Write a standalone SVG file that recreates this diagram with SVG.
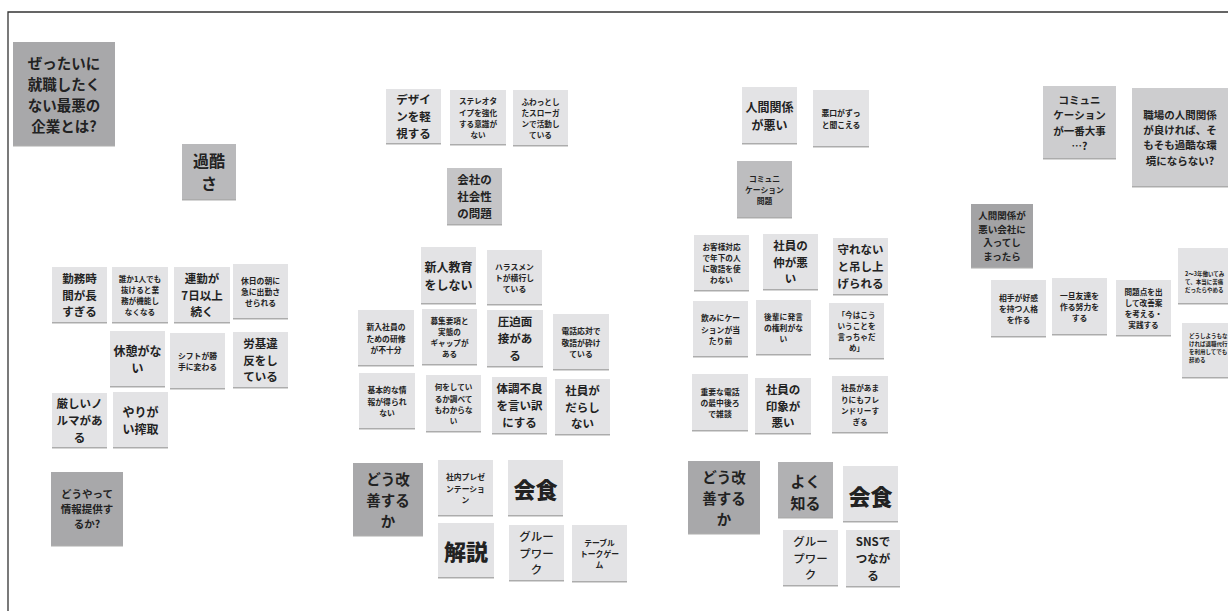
<svg xmlns="http://www.w3.org/2000/svg" width="1228" height="611" viewBox="0 0 1228 611">
<defs>
<filter id="sh" x="-10%" y="-10%" width="120%" height="125%">
<feDropShadow dx="0" dy="1.5" stdDeviation="0.6" flood-color="#666" flood-opacity="0.55"/>
</filter>
<style>
rect{filter:url(#sh)}
.l{fill:#e3e3e5}
.d{fill:#a8a8aa}
.d2{fill:#a3a3a5}
.m1{fill:#b9b9bb}
.m2{fill:#c5c5c7}
.m3{fill:#bdbdbf}
.m4{fill:#b1b1b3}
.m5{fill:#cdcdcf}
text{font-family:"Noto Sans CJK JP","Noto Sans",sans-serif;font-weight:700;fill:#222;text-anchor:middle;dominant-baseline:central}
.t76{font-size:7.6px}
.t78{font-size:7.8px}
.t11{font-size:11.5px}
.t12{font-size:12px}
.t14{font-size:14.5px}
.t15{font-size:15px}
.t16{font-size:16px}
.t22{font-size:22px;font-weight:900}
.tw{font-weight:500}
.tl{text-anchor:start;font-size:5.5px}
</style>
</defs>
<rect width="1228" height="611" fill="#fff" style="filter:none"/>
<path d="M8,611V12H1228" fill="none" stroke="#333" stroke-width="1.3"/>

<g id="title"><rect class="d" x="13" y="42" width="102" height="103"/>
<text class="t14"><tspan x="64" y="61.9">ぜったいに</tspan><tspan x="64" y="83">就職したく</tspan><tspan x="64" y="104.1">ない最悪の</tspan><tspan x="64" y="125.2">企業とは?</tspan></text></g>
<g id="kakoku"><rect class="m1" x="182" y="144" width="54" height="55"/>
<text class="t16"><tspan x="209" y="159.9">過酷</tspan><tspan x="209" y="183.2">さ</tspan></text></g>
<g id="n-kinmu"><rect class="l" x="52" y="267" width="55" height="55"/>
<text class="t11"><tspan x="79.5" y="277.7">勤務時</tspan><tspan x="79.5" y="294.5">間が長</tspan><tspan x="79.5" y="311.3">すぎる</tspan></text></g>
<g id="n-dareka"><rect class="l" x="112" y="267" width="56" height="55"/>
<text class="t76"><tspan x="140" y="277.9">誰か1人でも</tspan><tspan x="140" y="289">抜けると業</tspan><tspan x="140" y="300.1">務が機能し</tspan><tspan x="140" y="311.2">なくなる</tspan></text></g>
<g id="n-renkin"><rect class="l" x="174" y="267" width="56" height="55"/>
<text class="t11"><tspan x="202" y="277.7">連勤が</tspan><tspan x="202" y="294.5">7日以上</tspan><tspan x="202" y="311.3">続く</tspan></text></g>
<g id="n-kyujitsu"><rect class="l" x="233" y="264" width="55" height="54"/>
<text class="t78"><tspan x="260.5" y="279.6">休日の朝に</tspan><tspan x="260.5" y="291">急に出勤さ</tspan><tspan x="260.5" y="302.4">せられる</tspan></text></g>
<g id="n-kyukei"><rect class="l" x="110" y="331" width="55" height="55"/>
<text class="t12"><tspan x="137.5" y="349.8">休憩がな</tspan><tspan x="137.5" y="367.3">い</tspan></text></g>
<g id="n-shift"><rect class="l" x="170" y="333" width="55" height="55"/>
<text class="t78"><tspan x="197.5" y="354.8">シフトが勝</tspan><tspan x="197.5" y="366.2">手に変わる</tspan></text></g>
<g id="n-rouki"><rect class="l" x="233" y="332" width="55" height="55"/>
<text class="t11"><tspan x="260.5" y="342.7">労基違</tspan><tspan x="260.5" y="359.5">反をし</tspan><tspan x="260.5" y="376.3">ている</tspan></text></g>
<g id="n-norma"><rect class="l" x="52" y="393" width="55" height="54"/>
<text class="t11"><tspan x="79.5" y="403.2">厳しいノ</tspan><tspan x="79.5" y="420">ルマがあ</tspan><tspan x="79.5" y="436.8">る</tspan></text></g>
<g id="n-yarigai"><rect class="l" x="113" y="392" width="55" height="55"/>
<text class="t12"><tspan x="140.5" y="410.8">やりが</tspan><tspan x="140.5" y="428.3">い搾取</tspan></text></g>
<g id="n-douyatte"><rect class="d" x="51" y="472" width="72" height="73"/>
<text style="font-size:10.5px"><tspan x="87" y="492.7">どうやって</tspan><tspan x="87" y="508">情報提供す</tspan><tspan x="87" y="523.3">るか?</tspan></text></g>

<g id="n-design"><rect class="l" x="386" y="89" width="55" height="54"/>
<text class="t11"><tspan x="413.5" y="99.2">デザイ</tspan><tspan x="413.5" y="116">ンを軽</tspan><tspan x="413.5" y="132.8">視する</tspan></text></g>
<g id="n-stereo"><rect class="l" x="450" y="90" width="56" height="54"/>
<text class="t76"><tspan x="478" y="100.4">ステレオタ</tspan><tspan x="478" y="111.5">イプを強化</tspan><tspan x="478" y="122.6">する意識が</tspan><tspan x="478" y="133.7">ない</tspan></text></g>
<g id="n-fuwatto"><rect class="l" x="513" y="90" width="55" height="55"/>
<text class="t76"><tspan x="540.5" y="100.9">ふわっとし</tspan><tspan x="540.5" y="112">たスローガ</tspan><tspan x="540.5" y="123.1">ンで活動し</tspan><tspan x="540.5" y="134.2">ている</tspan></text></g>
<g id="n-shakaisei"><rect class="m2" x="447" y="168" width="55" height="56"/>
<text class="t11"><tspan x="474.5" y="179.2">会社の</tspan><tspan x="474.5" y="196">社会性</tspan><tspan x="474.5" y="212.8">の問題</tspan></text></g>
<g id="n-shinjin"><rect class="l" x="421" y="247" width="55" height="56"/>
<text class="t12"><tspan x="448.5" y="266.3">新人教育</tspan><tspan x="448.5" y="283.8">をしない</tspan></text></g>
<g id="n-harass"><rect class="l" x="487" y="250" width="55" height="54"/>
<text class="t78"><tspan x="514.5" y="265.6">ハラスメン</tspan><tspan x="514.5" y="277">トが横行し</tspan><tspan x="514.5" y="288.4">ている</tspan></text></g>
<g id="n-kenshu"><rect class="l" x="358" y="310" width="56" height="55"/>
<text class="t78"><tspan x="386" y="326.1">新入社員の</tspan><tspan x="386" y="337.5">ための研修</tspan><tspan x="386" y="348.9">が不十分</tspan></text></g>
<g id="n-boshu"><rect class="l" x="422" y="309" width="55" height="55"/>
<text class="t76"><tspan x="449.5" y="319.9">募集要項と</tspan><tspan x="449.5" y="331">実態の</tspan><tspan x="449.5" y="342.1">ギャップが</tspan><tspan x="449.5" y="353.2">ある</tspan></text></g>
<g id="n-appaku"><rect class="l" x="487" y="310" width="56" height="56"/>
<text class="t11"><tspan x="515" y="321.2">圧迫面</tspan><tspan x="515" y="338">接があ</tspan><tspan x="515" y="354.8">る</tspan></text></g>
<g id="n-denwa"><rect class="l" x="553" y="314" width="56" height="55"/>
<text class="t78"><tspan x="581" y="330.1">電話応対で</tspan><tspan x="581" y="341.5">敬語が砕け</tspan><tspan x="581" y="352.9">ている</tspan></text></g>
<g id="n-kihon"><rect class="l" x="359" y="373" width="56" height="55"/>
<text class="t78"><tspan x="387" y="389.1">基本的な情</tspan><tspan x="387" y="400.5">報が得られ</tspan><tspan x="387" y="411.9">ない</tspan></text></g>
<g id="n-naniwo"><rect class="l" x="426" y="375" width="55" height="56"/>
<text class="t76"><tspan x="453.5" y="386.4">何をしてい</tspan><tspan x="453.5" y="397.5">るか調べて</tspan><tspan x="453.5" y="408.6">もわからな</tspan><tspan x="453.5" y="419.7">い</tspan></text></g>
<g id="n-taicho"><rect class="l" x="492" y="377" width="55" height="56"/>
<text class="t11"><tspan x="519.5" y="388.2">体調不良</tspan><tspan x="519.5" y="405">を言い訳</tspan><tspan x="519.5" y="421.8">にする</tspan></text></g>
<g id="n-darashi"><rect class="l" x="555" y="379" width="55" height="55"/>
<text class="t11"><tspan x="582.5" y="389.7">社員が</tspan><tspan x="582.5" y="406.5">だらし</tspan><tspan x="582.5" y="423.3">ない</tspan></text></g>
<g id="n-kaizen1"><rect class="d" x="353" y="463" width="70" height="72"/>
<text class="t14"><tspan x="388" y="477.9">どう改</tspan><tspan x="388" y="499">善する</tspan><tspan x="388" y="520.1">か</tspan></text></g>
<g id="n-presen"><rect class="l" x="438" y="460" width="55" height="55"/>
<text class="t78"><tspan x="465.5" y="476.1">社内プレゼ</tspan><tspan x="465.5" y="487.5">ンテーショ</tspan><tspan x="465.5" y="498.9">ン</tspan></text></g>
<g id="n-kaishoku1"><rect class="l" x="508" y="460" width="55" height="55"/>
<text class="t22" x="535.5" y="488">会食</text></g>
<g id="n-kaisetsu"><rect class="l" x="438" y="523" width="56" height="54"/>
<text class="t22" x="466" y="550">解説</text></g>
<g id="n-group1"><rect class="l" x="509" y="525" width="55" height="55"/>
<text class="t11 tw"><tspan x="536.5" y="535.7">グルー</tspan><tspan x="536.5" y="552.5">プワー</tspan><tspan x="536.5" y="569.3">ク</tspan></text></g>
<g id="n-table"><rect class="l" x="572" y="525" width="55" height="56"/>
<text class="t78"><tspan x="599.5" y="541.6">テーブル</tspan><tspan x="599.5" y="553">トークゲー</tspan><tspan x="599.5" y="564.4">ム</tspan></text></g>

<g id="n-ningen"><rect class="l" x="742" y="87" width="55" height="56"/>
<text class="t12"><tspan x="769.5" y="106.3">人間関係</tspan><tspan x="769.5" y="123.8">が悪い</tspan></text></g>
<g id="n-waruguchi"><rect class="l" x="813" y="90" width="56" height="56"/>
<text class="t78"><tspan x="841" y="112.3">悪口がずっ</tspan><tspan x="841" y="123.7">と聞こえる</tspan></text></g>
<g id="n-comm"><rect class="m3" x="737" y="161" width="55" height="56"/>
<text class="t78"><tspan x="764.5" y="177.6">コミュニ</tspan><tspan x="764.5" y="189">ケーション</tspan><tspan x="764.5" y="200.4">問題</tspan></text></g>
<g id="n-okyaku"><rect class="l" x="694" y="235" width="55" height="55"/>
<text class="t76"><tspan x="721.5" y="245.9">お客様対応</tspan><tspan x="721.5" y="257">で年下の人</tspan><tspan x="721.5" y="268.1">に敬語を使</tspan><tspan x="721.5" y="279.2">わない</tspan></text></g>
<g id="n-naka"><rect class="l" x="763" y="234" width="55" height="55"/>
<text class="t11"><tspan x="790.5" y="244.7">社員の</tspan><tspan x="790.5" y="261.5">仲が悪</tspan><tspan x="790.5" y="278.3">い</tspan></text></g>
<g id="n-mamore"><rect class="l" x="833" y="238" width="55" height="56"/>
<text class="t11"><tspan x="860.5" y="249.2">守れない</tspan><tspan x="860.5" y="266">と吊し上</tspan><tspan x="860.5" y="282.8">げられる</tspan></text></g>
<g id="n-nomi"><rect class="l" x="693" y="301" width="55" height="55"/>
<text class="t78"><tspan x="720.5" y="317.1">飲みにケー</tspan><tspan x="720.5" y="328.5">ションが当</tspan><tspan x="720.5" y="339.9">たり前</tspan></text></g>
<g id="n-kouhai"><rect class="l" x="756" y="300" width="55" height="54"/>
<text class="t78"><tspan x="783.5" y="315.6">後輩に発言</tspan><tspan x="783.5" y="327">の権利がな</tspan><tspan x="783.5" y="338.4">い</tspan></text></g>
<g id="n-imawa"><rect class="l" x="829" y="303" width="55" height="55"/>
<text class="t76"><tspan x="856.5" y="313.9">「今はこう</tspan><tspan x="856.5" y="325">いうことを</tspan><tspan x="856.5" y="336.1">言っちゃだ</tspan><tspan x="856.5" y="347.2">め」</tspan></text></g>
<g id="n-juyou"><rect class="l" x="692" y="374" width="56" height="56"/>
<text class="t78"><tspan x="720" y="390.6">重要な電話</tspan><tspan x="720" y="402">の最中後ろ</tspan><tspan x="720" y="413.4">で雑談</tspan></text></g>
<g id="n-inshou"><rect class="l" x="755" y="378" width="56" height="55"/>
<text class="t11"><tspan x="783" y="388.7">社員の</tspan><tspan x="783" y="405.5">印象が</tspan><tspan x="783" y="422.3">悪い</tspan></text></g>
<g id="n-shachou"><rect class="l" x="832" y="376" width="56" height="56"/>
<text class="t76"><tspan x="860" y="387.4">社長があま</tspan><tspan x="860" y="398.5">りにもフレ</tspan><tspan x="860" y="409.6">ンドリーす</tspan><tspan x="860" y="420.7">ぎる</tspan></text></g>
<g id="n-kaizen2"><rect class="d" x="688" y="461" width="72" height="72"/>
<text class="t14"><tspan x="724" y="475.9">どう改</tspan><tspan x="724" y="497">善する</tspan><tspan x="724" y="518.1">か</tspan></text></g>
<g id="n-yokushiru"><rect class="m4" x="778" y="462" width="55" height="55"/>
<text class="t15"><tspan x="805.5" y="480">よく</tspan><tspan x="805.5" y="501.8">知る</tspan></text></g>
<g id="n-kaishoku2"><rect class="l" x="843" y="466" width="55" height="55"/>
<text class="t22" x="870.5" y="495">会食</text></g>
<g id="n-group2"><rect class="l" x="783" y="530" width="55" height="55"/>
<text class="t11 tw"><tspan x="810.5" y="540.7">グルー</tspan><tspan x="810.5" y="557.5">プワー</tspan><tspan x="810.5" y="574.3">ク</tspan></text></g>
<g id="n-sns"><rect class="l" x="846" y="530" width="54" height="56"/>
<text class="t11"><tspan x="873" y="541.2">SNSで</tspan><tspan x="873" y="558">つなが</tspan><tspan x="873" y="574.8">る</tspan></text></g>

<g id="n-ichiban"><rect class="m5" x="1043" y="86" width="73" height="72"/>
<text style="font-size:10.5px"><tspan x="1079.5" y="99">コミュニ</tspan><tspan x="1079.5" y="114.3">ケーション</tspan><tspan x="1079.5" y="129.7">が一番大事</tspan><tspan x="1079.5" y="145">…?</tspan></text></g>
<g id="n-shokuba"><rect class="m5" x="1132" y="88" width="100" height="98"/>
<text style="font-size:10.5px"><tspan x="1180" y="113.5">職場の人間関係</tspan><tspan x="1180" y="128.8">が良ければ、そ</tspan><tspan x="1180" y="144.2">もそも過酷な環</tspan><tspan x="1180" y="159.5">境にならない?</tspan></text></g>
<g id="n-haitte"><rect class="d2" x="971" y="204" width="62" height="63"/>
<text style="font-size:9.5px"><tspan x="1002" y="214.8">人間関係が</tspan><tspan x="1002" y="228.6">悪い会社に</tspan><tspan x="1002" y="242.4">入ってし</tspan><tspan x="1002" y="256.2">まったら</tspan></text></g>
<g id="n-aite"><rect class="l" x="991" y="280" width="55" height="56"/>
<text class="t78"><tspan x="1018.5" y="296.6">相手が好感</tspan><tspan x="1018.5" y="308">を持つ人格</tspan><tspan x="1018.5" y="319.4">を作る</tspan></text></g>
<g id="n-tomodachi"><rect class="l" x="1052" y="278" width="55" height="56"/>
<text class="t78"><tspan x="1079.5" y="294.6">一旦友達を</tspan><tspan x="1079.5" y="306">作る努力を</tspan><tspan x="1079.5" y="317.4">する</tspan></text></g>
<g id="n-mondai"><rect class="l" x="1116" y="280" width="55" height="55"/>
<text class="t76"><tspan x="1143.5" y="290.9">問題点を出</tspan><tspan x="1143.5" y="302">して改善案</tspan><tspan x="1143.5" y="313.1">を考える・</tspan><tspan x="1143.5" y="324.2">実践する</tspan></text></g>
<g id="n-yameru"><rect class="l" x="1178" y="248" width="60" height="55"/>
<text class="tl"><tspan x="1185" y="274">2〜3年働いてみ</tspan><tspan x="1185" y="282">て、本当に苦痛</tspan><tspan x="1185" y="290">だったらやめる</tspan></text></g>
<g id="n-daikou"><rect class="l" x="1182" y="323" width="60" height="54"/>
<text class="tl"><tspan x="1189" y="336">どうしようもな</tspan><tspan x="1189" y="344">ければ退職代行</tspan><tspan x="1189" y="352">を利用してでも</tspan><tspan x="1189" y="360">辞める</tspan></text></g>
</svg>
